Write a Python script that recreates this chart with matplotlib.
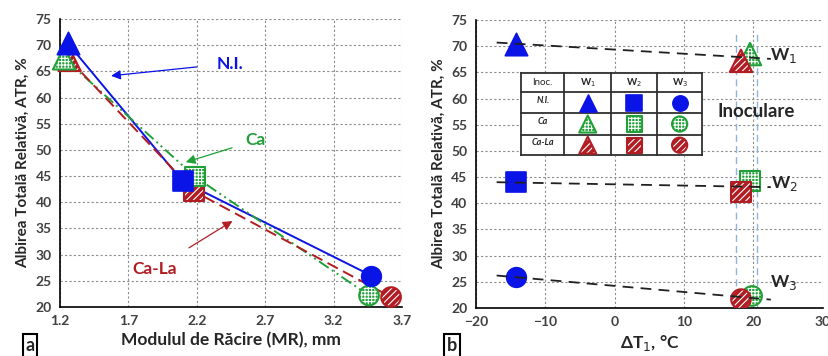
import numpy as np
import matplotlib.pyplot as plt

plt.rcParams['font.family'] = ['Lato', 'DejaVu Sans']
plt.rcParams['hatch.color'] = 'white'
plt.rcParams['hatch.linewidth'] = 0.8

# ---- data ----
inoc = ['N.I.', 'Ca', 'Ca-La']
walls = ['W$_1$', 'W$_2$', 'W$_3$']
colors = {'N.I.': '#0a14e6', 'Ca': '#21a038', 'Ca-La': '#b21d24'}
hatches = {'N.I.': None, 'Ca': '+++++', 'Ca-La': '/////'}
shapes = ['^', 's', 'o']

mr = {'N.I.': [1.256, 2.096, 3.476],
      'Ca': [1.23, 2.186, 3.459],
      'Ca-La': [1.27, 2.18, 3.62]}
atr = {'N.I.': [70.4, 44.0, 26.0],
       'Ca': [67.5, 44.9, 22.2],
       'Ca-La': [67.2, 42.1, 21.9]}
dt1 = {'N.I.': [-14.2, -14.2, -14.2],
       'Ca': [19.5, 19.5, 19.8],
       'Ca-La': [18.2, 18.2, 18.2]}
atr_b = {'N.I.': [70.5, 44.0, 25.9],
         'Ca': [68.5, 44.2, 22.3],
         'Ca-La': [67.2, 42.1, 21.7]}

line_styles = {'N.I.': '-', 'Ca': (0, (6, 2, 1, 2, 1, 2)), 'Ca-La': (0, (6, 3))}

fig = plt.figure(figsize=(8.29, 3.56), dpi=100)
ax1 = fig.add_axes([0.0724, 0.1376, 0.4125, 0.809])
ax2 = fig.add_axes([0.574, 0.1348, 0.4186, 0.809])

tick_col = '#404040'


def marker(ax, x, y, m, key, s, zorder=4, clip_on=True):
    c = colors[key]
    h = hatches[key]
    if h is None:
        ax.scatter(x, y, s=s, marker=m, facecolor=c, edgecolor=c,
                   linewidths=1.2, zorder=zorder, clip_on=clip_on)
    else:
        ax.scatter(x, y, s=s, marker=m, facecolor=c, edgecolor='white',
                   hatch=h, linewidths=0.01, zorder=zorder, clip_on=clip_on)
        ax.scatter(x, y, s=s, marker=m, facecolor='none', edgecolor=c,
                   linewidths=1.5, zorder=zorder, clip_on=clip_on)


def style(ax):
    for sp in ['top', 'right']:
        ax.spines[sp].set_visible(False)
    for sp in ['left', 'bottom']:
        ax.spines[sp].set_color('black')
        ax.spines[sp].set_linewidth(1.2)
    ax.tick_params(length=0, labelsize=10, labelcolor=tick_col, pad=6)
    for lab in ax.get_xticklabels() + ax.get_yticklabels():
        lab.set_fontweight('bold')
    ax.grid(True, linestyle=(0, (2, 2)), color='#8c8c8c', linewidth=0.8)
    ax.set_axisbelow(True)
    ax.set_ylim(20, 75)
    ax.set_yticks(np.arange(20, 76, 5))
    ax.set_ylabel('Albirea Totală Relativă, ATR, %', fontsize=11,
                  fontweight='bold', color='#262626', labelpad=4)


# ---- panel a ----
ax1.set_xlim(1.2, 3.7)
ax1.set_xticks([1.2, 1.7, 2.2, 2.7, 3.2, 3.7])
for key in inoc:
    ax1.plot(mr[key], atr[key], linestyle=line_styles[key], color=colors[key],
             lw=1.4, zorder=3)
for key in ['Ca-La', 'Ca', 'N.I.']:
    for i, m in enumerate(shapes):
        s = 260 if m == '^' else 200
        marker(ax1, mr[key][i], atr[key][i], m, key, s, zorder=4, clip_on=False)
style(ax1)
ax1.set_xlabel('Modulul de Răcire (MR), mm', fontsize=12.5, fontweight='bold',
               color='#262626', labelpad=3)

ax1.annotate('N.I.', xy=(1.553, 64.1), xytext=(2.44, 66.5), ha='center', va='center',
             fontsize=12.5, fontweight='bold', color=colors['N.I.'],
             arrowprops=dict(arrowstyle='-|>', color=colors['N.I.'], lw=0.9,
                             mutation_scale=14, shrinkA=12))
ax1.annotate('Ca', xy=(2.10, 47.5), xytext=(2.63, 51.8), ha='center', va='center',
             fontsize=12.5, fontweight='bold', color=colors['Ca'],
             arrowprops=dict(arrowstyle='-|>', color=colors['Ca'], lw=0.9,
                             mutation_scale=14, shrinkA=8))
ax1.annotate('Ca-La', xy=(2.478, 36.7), xytext=(1.894, 27.3), ha='center', va='center',
             fontsize=12.5, fontweight='bold', color=colors['Ca-La'],
             arrowprops=dict(arrowstyle='-|>', color=colors['Ca-La'], lw=0.9,
                             mutation_scale=14, shrinkA=14))

# ---- panel b ----
ax2.set_xlim(-20, 30)
ax2.set_xticks([-20, -10, 0, 10, 20, 30])
style(ax2)
ax2.set_xlabel('ΔT$_1$, °C', fontsize=12.5, fontweight='bold', color='#262626',
               labelpad=3)

for xv in [17.5, 20.5]:
    ax2.plot([xv, xv], [20, 72.6], linestyle=(0, (5, 3)), color='#8fb3dc',
             lw=1.0, zorder=2)

x_fit = np.array([-17, 22.5])
for i in range(3):
    xs = [dt1[k][i] for k in inoc]
    ys = [atr_b[k][i] for k in inoc]
    p = np.polyfit(xs, ys, 1)
    ax2.plot(x_fit, np.polyval(p, x_fit), linestyle=(0, (6, 4)), color='#202020',
             lw=1.3, zorder=5)

for key in ['N.I.', 'Ca', 'Ca-La']:
    for i, m in enumerate(shapes):
        s = 260 if m == '^' else 200
        marker(ax2, dt1[key][i], atr_b[key][i], m, key, s, zorder=4)

w_y = [68.3, 43.8, 24.9]
for w, yv in zip(walls, w_y):
    ax2.text(24.4, yv, w, fontsize=12.5, fontweight='bold', color='#262626',
             ha='center', va='center', zorder=6)
ax2.text(20.4, 57.6, 'Inoculare', fontsize=13.5, fontweight='bold',
         color='#262626', ha='center', va='center', zorder=6)

# inset table
col_x = [-13.43, -7.28, -0.47, 6.10, 12.63]
row_y = [64.83, 61.2, 57.2, 53.07, 49.13]
ax2.fill_between([col_x[0], col_x[-1]], row_y[-1], row_y[0], color='white', zorder=6)
for xv in col_x:
    ax2.plot([xv, xv], [row_y[-1], row_y[0]], color='#303030', lw=1.3, zorder=7)
for yv in row_y:
    ax2.plot([col_x[0], col_x[-1]], [yv, yv], color='#303030', lw=1.3, zorder=7)
cx = [(col_x[j] + col_x[j + 1]) / 2 for j in range(4)]
cy = [(row_y[j] + row_y[j + 1]) / 2 for j in range(4)]
ax2.text(cx[0], cy[0], 'Inoc.', fontsize=7, color='#262626', ha='center',
         va='center', zorder=8)
for j, w in enumerate(walls):
    ax2.text(cx[j + 1], cy[0], w, fontsize=7, fontweight='bold', color='#262626',
             ha='center', va='center', zorder=8)
for r, key in enumerate(inoc):
    ax2.text(cx[0], cy[r + 1] + 0.5, key, fontsize=6.5, fontweight='bold',
             style='italic', color='#262626', ha='center', va='center', zorder=8)
    for j, m in enumerate(shapes):
        s = 150 if m == '^' else 120
        marker(ax2, cx[j + 1], cy[r + 1], m, key, s, zorder=8)

# panel letters
for xf, letter in [(0.036, 'a'), (0.545, 'b')]:
    fig.text(xf, 0.03, letter, fontsize=13, fontweight='bold', color='#262626',
             ha='center', va='center',
             bbox=dict(boxstyle='square,pad=0.15', fc='white', ec='black', lw=1.5))

fig.savefig('out.png', dpi=100)
